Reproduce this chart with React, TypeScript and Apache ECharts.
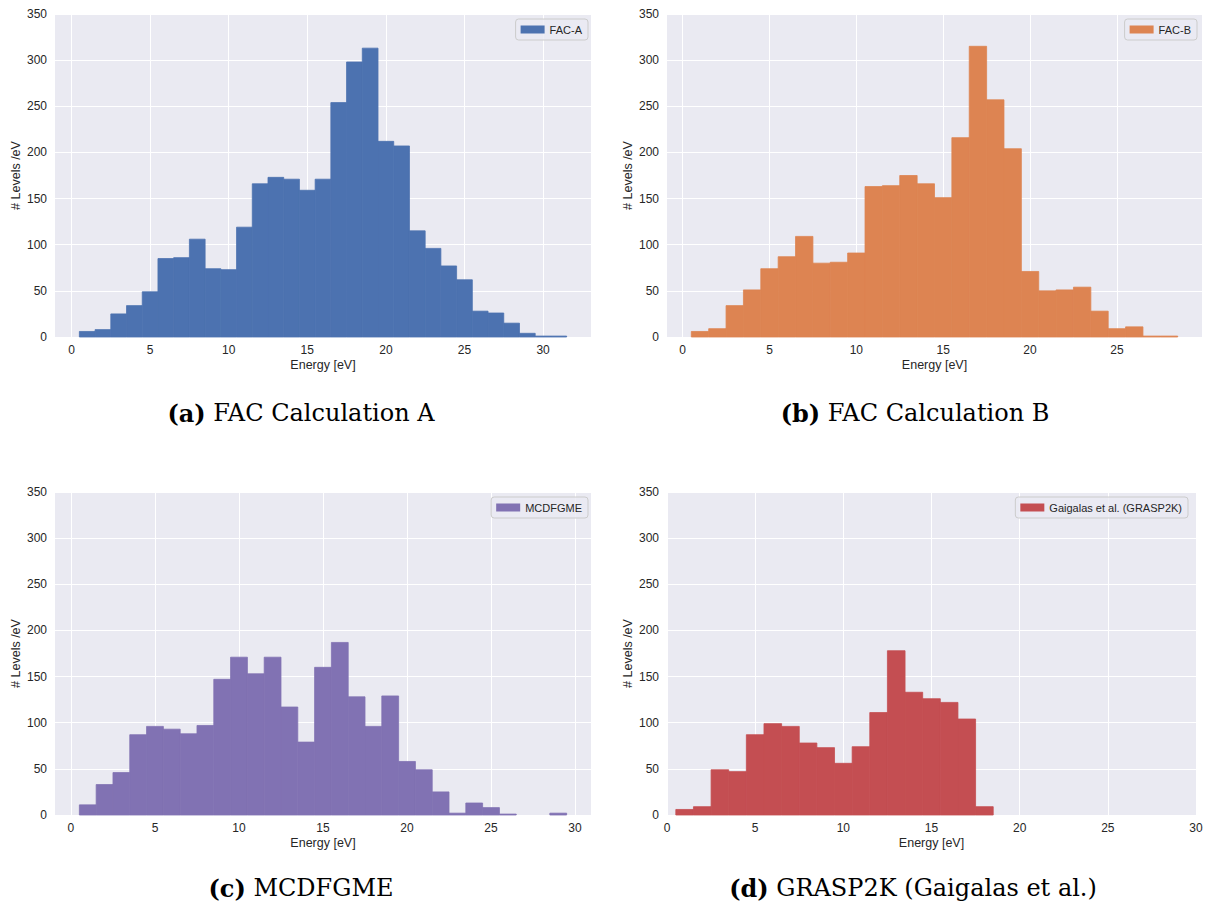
import React, { useEffect, useRef } from "react";
import * as echarts from "echarts";

// Bin centres (bins are 1 eV wide, edges at n-0.5 .. n+0.5)
const binsA = [1,2,3,4,5,6,7,8,9,10,11,12,13,14,15,16,17,18,19,20,21,22,23,24,25,26,27,28,29,30,31];
const facA = [6,8,25,34,49,85,86,106,74,73,119,166,173,171,159,171,254,298,313,212,207,115,96,77,62,28,26,15,4,1,1];

const binsB = [1,2,3,4,5,6,7,8,9,10,11,12,13,14,15,16,17,18,19,20,21,22,23,24,25,26,27,28];
const facB = [6,9,34,51,74,87,109,80,81,91,163,164,175,166,151,216,315,257,204,71,50,51,54,28,9,11,1,1];

const binsC = [1,2,3,4,5,6,7,8,9,10,11,12,13,14,15,16,17,18,19,20,21,22,23,24,25,26,27,28,29];
const mcdfgme = [11,33,46,87,96,93,88,97,147,171,153,171,117,79,160,187,128,96,129,58,49,25,2,13,8,1,0,0,2];

const binsD = [1,2,3,4,5,6,7,8,9,10,11,12,13,14,15,16,17,18];
const grasp2k = [6,9,49,47,87,99,96,78,73,56,74,111,178,133,126,122,104,9];

const xTicksA = [0,5,10,15,20,25,30];
const xTicksB = [0,5,10,15,20,25];
const xTicksC = [0,5,10,15,20,25,30];
const xTicksD = [0,5,10,15,20,25,30];

const seriesNames = ["FAC-A", "FAC-B", "MCDFGME", "Gaigalas et al. (GRASP2K)"];
const colors = ["#4C72B0", "#DD8452", "#8172B3", "#C44E52"];
const captions = [
  ["(a)", "FAC Calculation A"],
  ["(b)", "FAC Calculation B"],
  ["(c)", "MCDFGME"],
  ["(d)", "GRASP2K (Gaigalas et al.)"],
];

const SANS = "'Liberation Sans', Arial, sans-serif";
const SERIF = "'DejaVu Serif', serif";
const TXT = "#262626";

export default function App() {
  const ref = useRef<HTMLDivElement>(null);
  useEffect(() => {
    if (!ref.current) return;
    const chart = echarts.init(ref.current, undefined, { renderer: "svg" });

    const grids = [
      { left: 55, top: 14, width: 536, height: 323 },
      { left: 667, top: 14, width: 535, height: 323 },
      { left: 55, top: 492, width: 536, height: 323 },
      { left: 667, top: 492, width: 529, height: 323 },
    ];
    const xr = [
      [-1.05, 33.05, xTicksA],
      [-0.9, 29.9, xTicksB],
      [-0.95, 30.95, xTicksC],
      [0, 30, xTicksD],
    ] as [number, number, number[]][];
    const datasets = [
      binsA.map((b, i) => [b, facA[i]]),
      binsB.map((b, i) => [b, facB[i]]),
      binsC.map((b, i) => [b, mcdfgme[i]]),
      binsD.map((b, i) => [b, grasp2k[i]]),
    ];
    const legendPos = [
      { right: 624, top: 19 },
      { right: 15, top: 19 },
      { right: 624, top: 497 },
      { right: 24, top: 497 },
    ];
    const captionPos = [
      [301, 413],
      [915, 413],
      [301, 888],
      [913, 888],
    ];

    chart.setOption({
      animation: false,
      backgroundColor: "#ffffff",
      grid: grids.map((g) => ({
        ...g,
        show: true,
        backgroundColor: "#EAEAF2",
        borderWidth: 0,
        containLabel: false,
      })),
      xAxis: xr.map(([mn, mx, ticks], i) => ({
        type: "value",
        gridIndex: i,
        min: mn,
        max: mx,
        name: "Energy [eV]",
        nameLocation: "middle",
        nameGap: 21,
        nameTextStyle: { fontFamily: SANS, fontSize: 12.5, color: TXT },
        axisLine: { show: false },
        axisTick: { show: false, customValues: ticks },
        axisLabel: {
          customValues: ticks,
          fontFamily: SANS,
          fontSize: 12,
          color: TXT,
          margin: 7,
        },
        splitLine: { show: true, lineStyle: { color: "#ffffff", width: 1 } },
      })),
      yAxis: grids.map((_, i) => ({
        type: "value",
        gridIndex: i,
        min: 0,
        max: 350,
        interval: 50,
        name: "# Levels /eV",
        nameLocation: "middle",
        nameGap: 33,
        nameTextStyle: { fontFamily: SANS, fontSize: 12.5, color: TXT },
        axisLine: { show: false },
        axisTick: { show: false },
        axisLabel: { fontFamily: SANS, fontSize: 12, color: TXT, margin: 8 },
        splitLine: { show: true, lineStyle: { color: "#ffffff", width: 1 } },
      })),
      legend: seriesNames.map((n, i) => ({
        data: [n],
        ...legendPos[i],
        orient: "vertical",
        icon: "rect",
        itemWidth: 24,
        itemHeight: 8,
        itemGap: 5,
        padding: [5, 6, 5, 5],
        backgroundColor: "rgba(234,234,242,0.8)",
        borderColor: "#cccccc",
        borderWidth: 1,
        borderRadius: 3,
        selectedMode: false,
        textStyle: { fontFamily: SANS, fontSize: 11, color: TXT },
      })),
      series: seriesNames.map((n, i) => ({
        type: "custom",
        name: n,
        xAxisIndex: i,
        yAxisIndex: i,
        data: datasets[i],
        encode: { x: 0, y: 1 },
        itemStyle: { color: colors[i] },
        renderItem: (params: any, api: any) => {
          const c = api.value(0);
          const v = api.value(1);
          if (!v) return null;
          const p0 = api.coord([c - 0.5, 0]);
          const p1 = api.coord([c + 0.5, v]);
          return {
            type: "rect",
            shape: {
              x: p0[0],
              y: p1[1],
              width: p1[0] - p0[0],
              height: p0[1] - p1[1],
            },
            style: { fill: colors[i], stroke: colors[i], lineWidth: 0.8 },
          };
        },
      })),
      graphic: captions.map(([lbl, txt], i) => ({
        type: "text",
        x: captionPos[i][0],
        y: captionPos[i][1],
        style: {
          text: `{b|${lbl}} ${txt}`,
          rich: {
            b: { fontWeight: "bold", fontFamily: SERIF, fontSize: 24, fill: "#000" },
          },
          fontFamily: SERIF,
          fontSize: 24,
          fill: "#000",
          textAlign: "center",
          textVerticalAlign: "middle",
        },
      })),
    });
    return () => chart.dispose();
  }, []);

  return (
    <div
      ref={ref}
      style={{ position: "absolute", left: 0, top: 0, width: 1212, height: 908, background: "#fff" }}
    />
  );
}
